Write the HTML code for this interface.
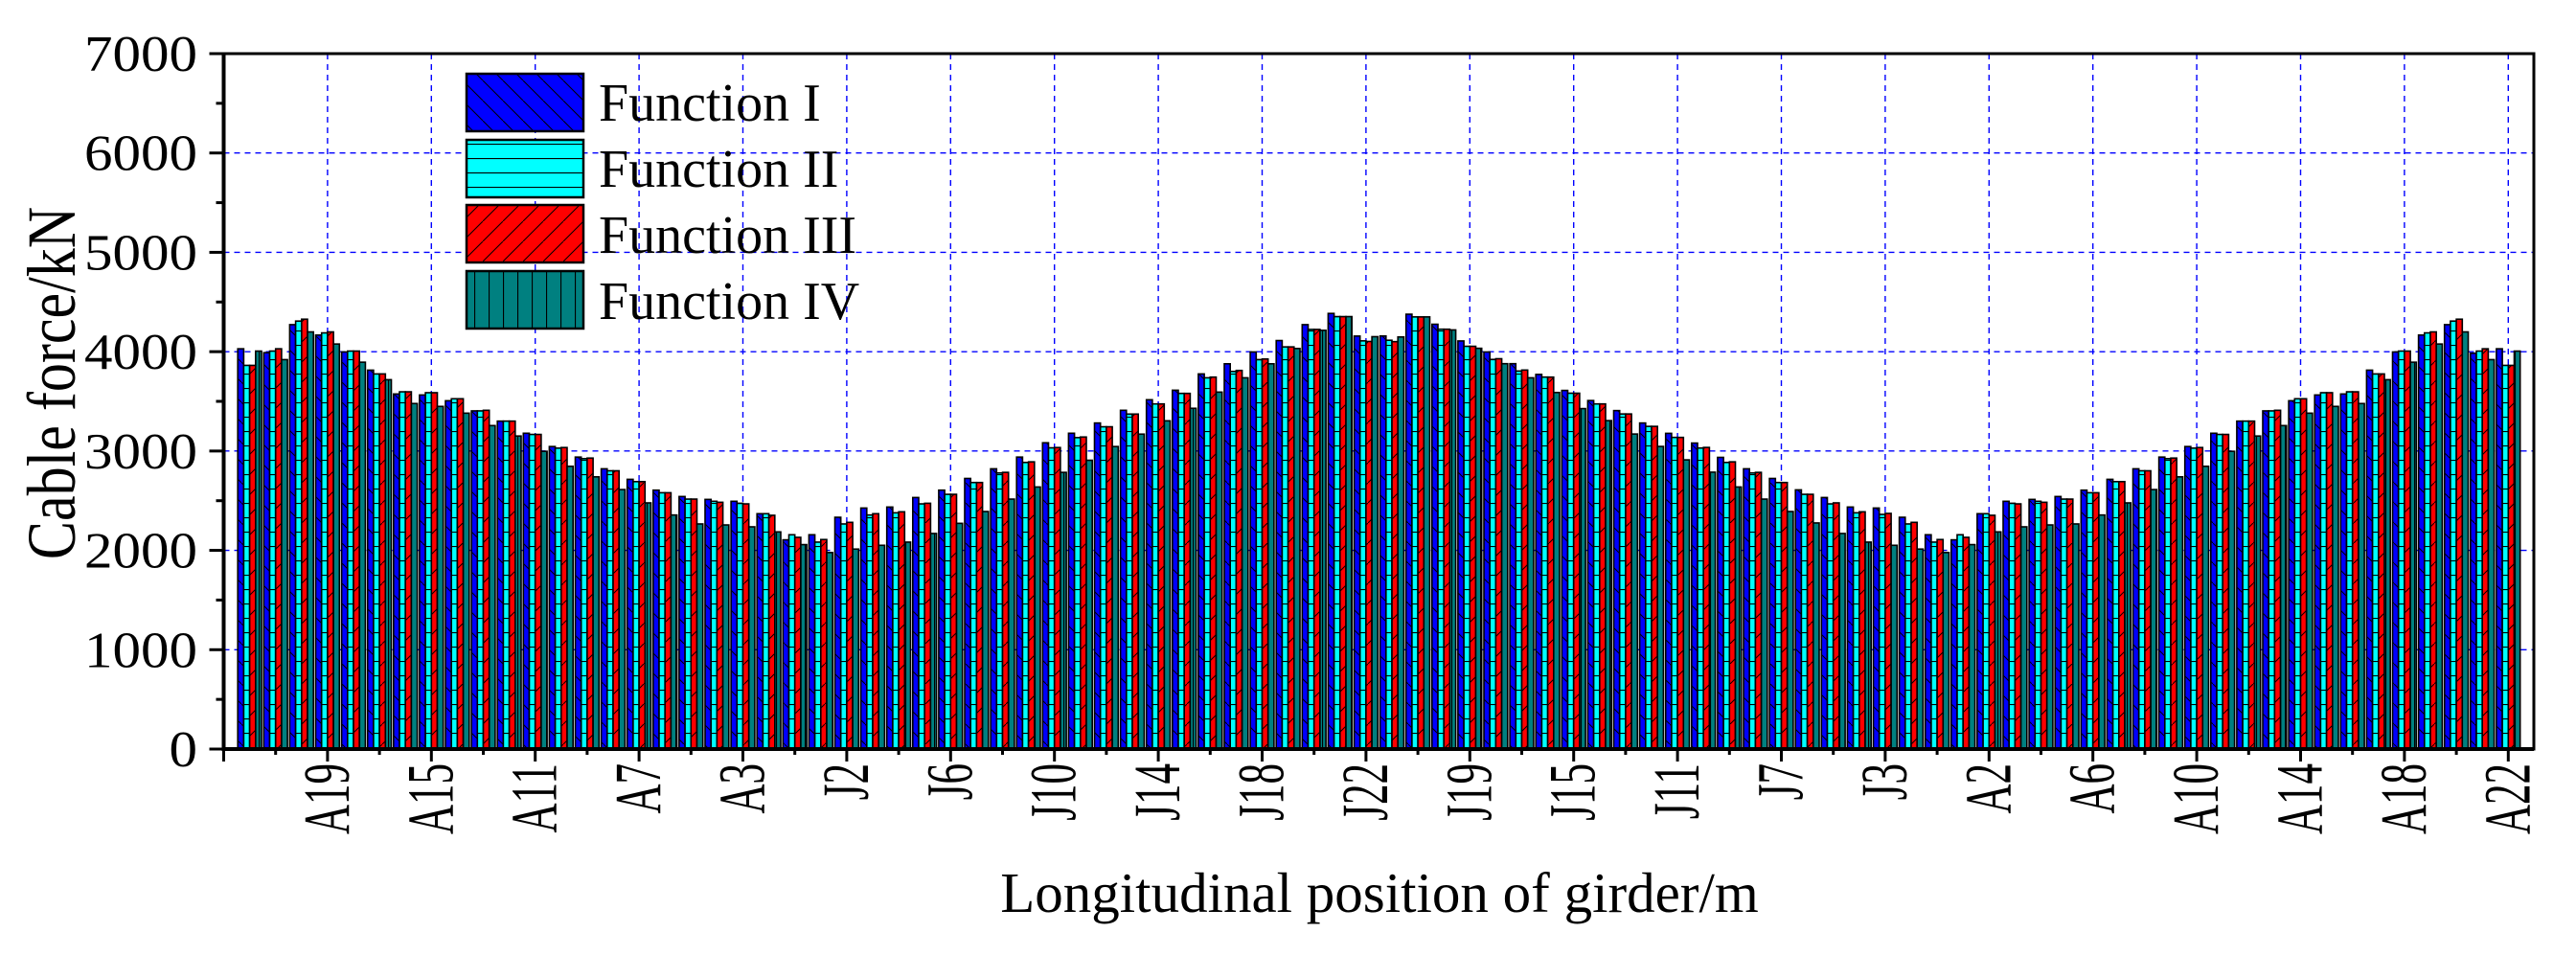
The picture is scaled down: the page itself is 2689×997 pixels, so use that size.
<!DOCTYPE html>
<html><head><meta charset="utf-8"><style>
html,body{margin:0;padding:0;background:#fff;}
svg{display:block;font-family:"Liberation Serif","Times New Roman",serif;}
</style></head><body>
<svg id="chart" width="2689" height="997" viewBox="0 0 2689 997" xmlns="http://www.w3.org/2000/svg">
<defs>
<pattern id="pBlue" patternUnits="userSpaceOnUse" width="21" height="21"><rect width="21" height="21" fill="#0000ff"/><path d="M0 0L21 21" stroke="#000" stroke-width="1"/></pattern>
<pattern id="pCyan" patternUnits="userSpaceOnUse" width="15" height="15"><rect width="15" height="15" fill="#00ffff"/><path d="M0 0.5H15" stroke="#000" stroke-width="1.2"/></pattern>
<pattern id="pRed" patternUnits="userSpaceOnUse" width="21" height="21"><rect width="21" height="21" fill="#ff0000"/><path d="M0 21L21 0" stroke="#000" stroke-width="1"/></pattern>
<pattern id="pTeal" patternUnits="userSpaceOnUse" width="15" height="15"><rect width="15" height="15" fill="#008080"/><path d="M0.5 0V15" stroke="#000" stroke-width="1.2"/></pattern>
</defs>
<g id="grid"></g>
<g id="bars"></g>
<g id="axes"></g>
<text transform="translate(78,400) rotate(-90) scale(1,1.2)" text-anchor="middle" font-size="60">Cable force/kN</text>
<text x="1440" y="952" text-anchor="middle" font-size="59">Longitudinal position of girder/m</text>
<g>
 <g><rect x="487" y="77" width="122" height="60" fill="url(#pBlue)" stroke="#000" stroke-width="2.5"/><text x="625" y="126" font-size="56">Function I</text></g>
 <g><rect x="487" y="146" width="122" height="60" fill="url(#pCyan)" stroke="#000" stroke-width="2.5"/><text x="625" y="195" font-size="56">Function II</text></g>
 <g><rect x="487" y="214" width="122" height="60" fill="url(#pRed)" stroke="#000" stroke-width="2.5"/><text x="625" y="264" font-size="56">Function III</text></g>
 <g><rect x="487" y="283" width="122" height="60" fill="url(#pTeal)" stroke="#000" stroke-width="2.5"/><text x="625" y="333" font-size="56">Function IV</text></g>
</g>
</svg>
<script>
const categories = ["A22","A21","A20","A19","A18","A17","A16","A15","A14","A13","A12","A11","A10","A9","A8","A7","A6","A5","A4","A3","A2","A1",
"J1","J2","J3","J4","J5","J6","J7","J8","J9","J10","J11","J12","J13","J14","J15","J16","J17","J18","J19","J20","J21","J22",
"J22","J21","J20","J19","J18","J17","J16","J15","J14","J13","J12","J11","J10","J9","J8","J7","J6","J5","J4","J3","J2","J1",
"A1","A2","A3","A4","A5","A6","A7","A8","A9","A10","A11","A12","A13","A14","A15","A16","A17","A18","A19","A20","A21","A22"];
const functionI = [4029,3990,4272,4167,3997,3814,3574,3564,3506,3404,3301,3179,3045,2939,2821,2715,2606,2542,2513,2494,2369,2106,
2157,2333,2426,2436,2532,2606,2724,2821,2939,3083,3179,3282,3410,3516,3612,3776,3878,3997,4112,4272,4385,4157,
4158,4377,4276,4108,3997,3879,3771,3610,3508,3407,3282,3178,3080,2936,2821,2724,2609,2532,2436,2426,2333,2157,
2106,2369,2494,2513,2542,2606,2715,2821,2939,3045,3179,3301,3404,3506,3564,3574,3814,3997,4167,4272,3984,4029];
const functionII = [3862,4006,4308,4189,4006,3776,3596,3587,3526,3404,3301,3167,3029,2923,2801,2692,2580,2516,2494,2474,2369,2157,
2083,2266,2356,2378,2468,2564,2683,2779,2885,3032,3135,3244,3372,3474,3580,3737,3801,3920,4048,4224,4353,4109,
4115,4350,4226,4054,3922,3805,3744,3582,3474,3373,3248,3137,3030,2885,2779,2683,2564,2468,2378,2362,2266,2083,
2157,2369,2474,2494,2516,2580,2692,2801,2923,3029,3167,3301,3404,3526,3587,3596,3776,4006,4189,4308,4006,3862];
const functionIII = [3862,4029,4327,4199,4006,3776,3596,3587,3526,3410,3301,3167,3035,2929,2801,2692,2580,2516,2484,2468,2353,2131,
2109,2282,2369,2388,2474,2564,2683,2785,2891,3035,3141,3244,3372,3474,3580,3744,3811,3926,4048,4224,4353,4103,
4101,4350,4226,4054,3929,3815,3744,3582,3474,3373,3248,3137,3036,2891,2785,2683,2564,2478,2388,2372,2282,2109,
2131,2353,2468,2484,2516,2580,2692,2801,2929,3035,3167,3301,3410,3526,3587,3596,3776,4006,4199,4327,4029,3862];
const functionIV = [4006,3920,4199,4077,3894,3718,3478,3449,3381,3256,3151,2997,2846,2740,2612,2478,2356,2266,2256,2237,2186,2058,
1978,2013,2051,2083,2170,2272,2391,2516,2638,2785,2907,3045,3170,3304,3430,3593,3737,3878,4032,4215,4353,4151,
4148,4350,4219,4034,3879,3737,3589,3427,3306,3171,3046,2911,2787,2638,2516,2391,2276,2170,2083,2051,2013,1978,
2058,2186,2237,2256,2266,2356,2478,2612,2740,2846,2997,3151,3256,3381,3449,3478,3718,3894,4077,4199,3920,4006];
const yTicks = [0,1000,2000,3000,4000,5000,6000,7000];
const seriesFills = ["url(#pBlue)","url(#pCyan)","url(#pRed)","url(#pTeal)"];
const seriesNames = ["function-i","function-ii","function-iii","function-iv"];

const NS = "http://www.w3.org/2000/svg";
const X0 = 233.5, X1 = 2645, Y0 = 782, Ytop = 56;
const step = 27.1, c0 = 260.6, barW = 6.2;
function xScale(i){ return c0 + i*step; }
function yScale(v){ return Y0 - (v/7000)*(Y0-Ytop); }
function mk(tag, attrs, parent){ const e=document.createElementNS(NS,tag); for(const k in attrs) e.setAttribute(k,attrs[k]); parent.appendChild(e); return e; }

const grid = document.getElementById('grid');
const bars = document.getElementById('bars');
const axes = document.getElementById('axes');

yTicks.forEach(v=>{
  if(v===0||v===7000) return;
  const l = mk('line',{x1:X0,x2:X1,y1:yScale(v),y2:yScale(v),stroke:'#0000ff','stroke-width':1.4,'stroke-dasharray':'6,5'},grid);
  
  
});
for(let i=3;i<categories.length;i+=4){
  const l = mk('line',{x1:xScale(i),x2:xScale(i),y1:Ytop,y2:Y0,stroke:'#0000ff','stroke-width':1.4,'stroke-dasharray':'6,5'},grid);
  
  
}
const all = [functionI,functionII,functionIII,functionIV];
categories.forEach((c,i)=>{
  all.forEach((arr,j)=>{
    const x = xScale(i) - 2*barW + j*barW;
    const y = yScale(arr[i]);
    const r = mk('rect',{x:x,y:y,width:barW,height:Y0-y,fill:seriesFills[j],stroke:'#000','stroke-width':1.6},bars);
    
    
  });
});
const frame = mk('rect',{x:X0,y:Ytop,width:X1-X0,height:Y0-Ytop,fill:'none',stroke:'#000','stroke-width':3},axes);


mk('line',{x1:X0,x2:X0,y1:Ytop,y2:Y0+2,stroke:'#000','stroke-width':4},axes);
mk('line',{x1:X0-2,x2:X1,y1:Y0,y2:Y0,stroke:'#000','stroke-width':4},axes);
yTicks.forEach(v=>{
  const y=yScale(v);
  mk('line',{x1:X0-15,x2:X0,y1:y,y2:y,stroke:'#000','stroke-width':3},axes);
  const t = mk('text',{transform:'translate(206,'+(y+18)+') scale(1.18,1.05)','text-anchor':'end','font-size':50},axes);
  t.textContent = v;
  
  
  if(v<7000){ const m=yScale(v+500); mk('line',{x1:X0-8,x2:X0,y1:m,y2:m,stroke:'#000','stroke-width':3},axes); }
});
mk('line',{x1:xScale(-1),x2:xScale(-1),y1:Y0,y2:Y0+13,stroke:'#000','stroke-width':3},axes);
for(let i=1;i<categories.length;i+=2){
  const major = (i%4===3);
  mk('line',{x1:xScale(i),x2:xScale(i),y1:Y0,y2:Y0+(major?13:6),stroke:'#000','stroke-width':3},axes);
  if(major){
    const t = mk('text',{transform:'translate('+(xScale(i)+22)+',797) rotate(-90) scale(1,1.6)','text-anchor':'end','font-size':43},axes);
    t.textContent = categories[i];
    
    
  }
}
</script>
</body></html>
